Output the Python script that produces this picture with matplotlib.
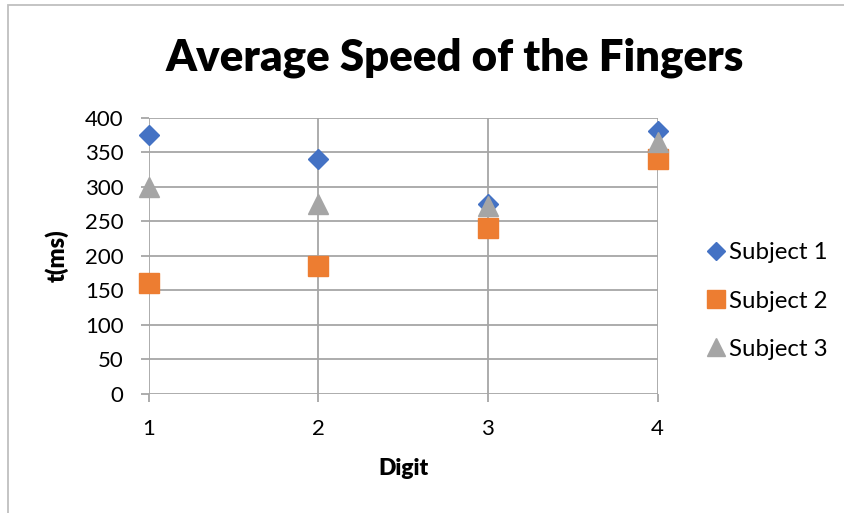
import matplotlib.pyplot as plt
from matplotlib.patches import Rectangle

plt.rcParams['font.family'] = ['Lato', 'DejaVu Sans']

digits = [1, 2, 3, 4]
subject1 = [375, 340, 275, 380]
subject2 = [160, 185, 240, 340]
subject3 = [300, 275, 272, 365]
series_names = ['Subject 1', 'Subject 2', 'Subject 3']
y_ticks = [0, 50, 100, 150, 200, 250, 300, 350, 400]

fig = plt.figure(figsize=(8.44, 5.13), dpi=100)
ax = fig.add_axes([0.176, 0.2326, 0.6031, 0.538])

grid_col = '#a6a6a6'
ax.plot(digits, subject1, linestyle='none', marker='D', ms=9.8,
        color='#4472c4', label=series_names[0], zorder=3, clip_on=False)
ax.plot(digits, subject2, linestyle='none', marker='s', ms=13.8,
        color='#ed7d31', label=series_names[1], zorder=3, clip_on=False)
ax.plot(digits, subject3, linestyle='none', marker='^', ms=13.8,
        color='#a5a5a5', label=series_names[2], zorder=4, clip_on=False)

ax.set_xlim(1, 4)
ax.set_ylim(0, 400)
ax.set_xticks(digits)
ax.set_yticks(y_ticks)
ax.grid(True, color=grid_col, linewidth=1.3)
ax.set_axisbelow(True)
for s in ax.spines.values():
    s.set_visible(False)
ax.tick_params(axis='both', colors=grid_col, width=1.3, length=6,
               labelcolor='black', labelsize=16)
ax.tick_params(axis='y', pad=12)
ax.tick_params(axis='x', pad=12)

ax.set_xlabel('Digit', fontsize=16.5, fontweight='heavy', labelpad=14)
ax.set_ylabel('t(ms)', fontsize=17, fontweight='heavy', labelpad=12)

fig.text(0.539, 0.888, 'Average Speed of the Fingers', ha='center', va='center',
         fontsize=31.5, fontweight='heavy')

fig.legend(loc='center left', bbox_to_anchor=(0.8215, 0.413), frameon=False,
           fontsize=17.3, handletextpad=0.0, labelspacing=1.13, handlelength=1.1,
           borderaxespad=0, markerscale=0.9)

# outer chart border
fig.patches.append(Rectangle((8 / 844, -0.1), 1.2, 1.1 - 5 / 513, transform=fig.transFigure,
                             fill=False, edgecolor='#bfbfbf', linewidth=1.3))

fig.savefig('out.png', dpi=100)
